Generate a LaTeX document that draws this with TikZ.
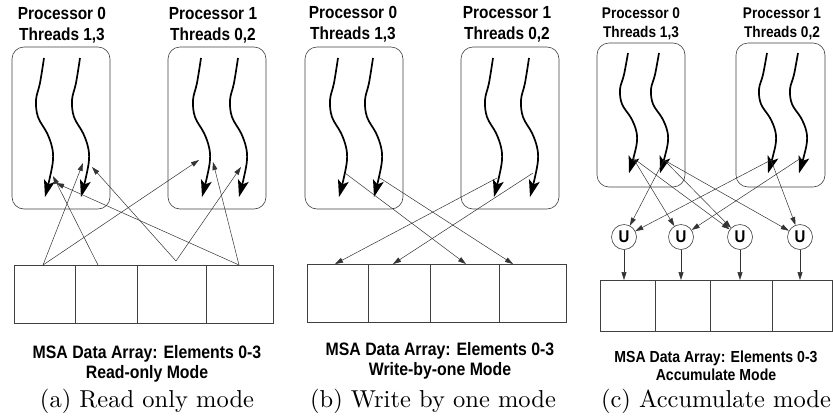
\documentclass[tikz,border=0pt]{standalone}
\usepackage{fontspec}
\usetikzlibrary{arrows.meta}
\newfontfamily\labfont{Liberation Sans}[FakeStretch=0.88]
\newfontfamily\capfont{lmroman10-regular.otf}
\newcommand\mythread[3]{%
 \begin{scope}[shift={(#1,#2)},yscale=#3]
 \draw[thr] plot[smooth,tension=0.6] coordinates {(0,0) (-4,25) (-8,42) (-6,59) (3,75) (8,89) (9,102) (6,119) (1,139)};
 \end{scope}}
\begin{document}
\begin{tikzpicture}[x=1pt,y=-1pt,
 thr/.style={line width=1.7pt,-{Stealth[length=17pt,width=11pt,inset=4pt]}},
 con/.style={line width=0.5pt,draw=black!80,-{Triangle[length=8pt,width=5pt]}},
 pbox/.style={draw=black!75,line width=0.6pt,rounded corners=12pt},
 cell/.style={draw=black!75,line width=0.6pt,inner sep=0pt,outer sep=0pt,anchor=north west},
 lab/.style={font=\labfont\bfseries\fontsize{17.5}{21}\selectfont,align=center,inner sep=0pt},
 labc/.style={font=\labfont\bfseries\fontsize{15.5}{18.5}\selectfont,align=center,inner sep=0pt},
 msa/.style={font=\labfont\bfseries\fontsize{18}{20.5}\selectfont,align=center,inner sep=0pt},
 msac/.style={font=\labfont\bfseries\fontsize{16}{18}\selectfont,align=center,inner sep=0pt},
 captxt/.style={font=\capfont\fontsize{24.5}{28}\selectfont,inner sep=0pt},
 ucirc/.style={circle,draw=black!75,line width=0.6pt,minimum size=25pt,inner sep=0pt,font=\labfont\bfseries\fontsize{17}{17}\selectfont}]
\useasboundingbox (0,0) rectangle (833,416);

% ---------------- Panel (a) ----------------
\node[lab] (ap0) at (62,25) {Processor 0\\Threads 1,3};
\node[lab] (ap1) at (213,25) {Processor 1\\Threads 0,2};
\draw[pbox] (12,47) rectangle (110,209);
\draw[pbox] (168,47) rectangle (266,209);
\mythread{44}{58}{1}
\mythread{80}{58}{1}
\mythread{201}{58}{1}
\mythread{238}{58}{1}
\node[cell,minimum width=61pt,minimum height=58pt] (a0) at (14,265) {};
\node[cell,minimum width=62pt,minimum height=58pt] (a1) at (75,265) {};
\node[cell,minimum width=69pt,minimum height=58pt] (a2) at (137,265) {};
\node[cell,minimum width=67pt,minimum height=58pt] (a3) at (206,265) {};
\coordinate (as0) at (43,265);
\coordinate (as1) at (98,265);
\coordinate (as2) at (176,261);
\coordinate (as3) at (239,265);
\coordinate (at1) at (83,163);
\coordinate (at2) at (199,160);
\coordinate (at3) at (53,176);
\coordinate (at4) at (92,167);
\coordinate (at5) at (241,167);
\coordinate (at6) at (56,183);
\coordinate (at7) at (213,162);
\draw[con] (as0) -- (at1);
\draw[con] (as0) -- (at2);
\draw[con] (as1) -- (at3);
\draw[con] (as2) -- (at4);
\draw[con] (as2) -- (at5);
\draw[con] (as3) -- (at6);
\draw[con] (as3) -- (at7);
\node[msa] (amsa) at (147,364) {MSA Data Array: Elements 0-3\\Read-only Mode};
\node[captxt] (acap) at (147,401) {(a) Read only mode};

% ---------------- Panel (b) ----------------
\node[lab] (bp0) at (353,24) {Processor 0\\Threads 1,3};
\node[lab] (bp1) at (507,24) {Processor 1\\Threads 0,2};
\draw[pbox] (305,47) rectangle (403,209);
\draw[pbox] (461,47) rectangle (559,209);
\mythread{338}{58}{1}
\mythread{373}{58}{1}
\mythread{493}{58}{1}
\mythread{529}{58}{1}
\node[cell,minimum width=61pt,minimum height=58pt] (b0) at (307,264) {};
\node[cell,minimum width=62pt,minimum height=58pt] (b1) at (368,264) {};
\node[cell,minimum width=69pt,minimum height=58pt] (b2) at (430,264) {};
\node[cell,minimum width=67pt,minimum height=58pt] (b3) at (499,264) {};
\coordinate (bs0) at (345,173);
\coordinate (bs1) at (380,178);
\coordinate (bs2) at (497,178);
\coordinate (bs3) at (533,173);
\coordinate (bt0) at (335,264);
\coordinate (bt1) at (393,264);
\coordinate (bt2) at (466,264);
\coordinate (bt3) at (513,264);
\draw[con] (bs0) -- (bt2);
\draw[con] (bs1) -- (bt3);
\draw[con] (bs2) -- (bt0);
\draw[con] (bs3) -- (bt1);
\node[msa] (bmsa) at (440,361) {MSA Data Array: Elements 0-3\\Write-by-one Mode};
\node[captxt] (bcap) at (433,401) {(b) Write by one mode};

% ---------------- Panel (c) ----------------
\node[labc] (cp0) at (641,24) {Processor 0\\Threads 1,3};
\node[labc] (cp1) at (782,24) {Processor 1\\Threads 0,2};
\draw[pbox] (597,43) rectangle (685,187);
\draw[pbox] (736,43) rectangle (825,187);
\mythread{628}{53}{0.865}
\mythread{659}{53}{0.865}
\mythread{767}{53}{0.865}
\mythread{798}{53}{0.865}
\node[cell,minimum width=55pt,minimum height=51pt] (c0) at (600,280) {};
\node[cell,minimum width=55pt,minimum height=51pt] (c1) at (655,280) {};
\node[cell,minimum width=62pt,minimum height=51pt] (c2) at (710,280) {};
\node[cell,minimum width=60pt,minimum height=51pt] (c3) at (772,280) {};
\node[ucirc] (u1) at (624,237) {U};
\node[ucirc] (u2) at (681,237) {U};
\node[ucirc] (u3) at (740,237) {U};
\node[ucirc] (u4) at (800,237) {U};
\coordinate (q1) at (633,158);
\coordinate (q2) at (664,160);
\coordinate (q3) at (771,160);
\coordinate (q4) at (801,158);
\draw[con] (q1) -- (u2);
\draw[con] (q1) -- (u3);
\draw[con] (q2) -- (u1);
\draw[con] (q2) -- (u3);
\draw[con] (q2) -- (u4);
\draw[con] (q3) -- (u1);
\draw[con] (q3) -- (u4);
\draw[con] (q4) -- (u2);
\foreach \u/\c in {u1/c0,u2/c1,u3/c2,u4/c3}
  \draw[con] (\u) -- (\u |- \c.north);
\node[msac] (cmsa) at (716,366) {MSA Data Array: Elements 0-3\\Accumulate Mode};
\node[captxt] (ccap) at (716,401) {(c) Accumulate mode};
\end{tikzpicture}
\end{document}
